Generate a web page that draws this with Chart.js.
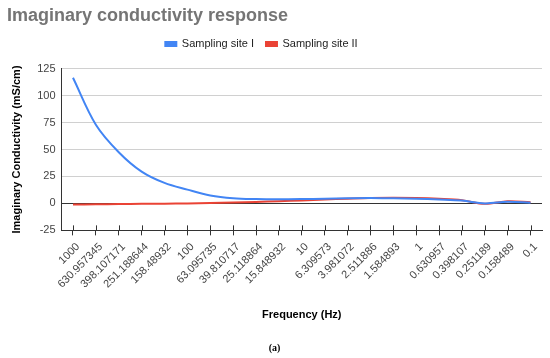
<!DOCTYPE html>
<html>
<head>
<meta charset="utf-8">
<script src="https://cdn.jsdelivr.net/npm/chart.js@4/dist/chart.umd.min.js"></script>
<style>
  html, body { margin: 0; padding: 0; background: #fff; }
  #wrap { width: 550px; height: 358px; position: relative; }
</style>
</head>
<body>
<div id="wrap"><canvas id="myChart" width="550" height="358"></canvas></div>
<script>
// frequencies (Hz), high to low
const frequencies = ['1000', '630.957345', '398.107171', '251.188644', '158.48932', '100',
    '63.095735', '39.810717', '25.118864', '15.848932', '10', '6.309573', '3.981072',
    '2.511886', '1.584893', '1', '0.630957', '0.398107', '0.251189', '0.158489', '0.1'];

// imaginary conductivity (mS/cm)
const siteOne = [116.5, 73, 47.5, 29.5, 19, 12.8, 7.4, 4.8, 4, 3.8, 4, 4.4, 4.8, 5, 4.7, 4.3, 3.6, 2.6, 0, 1.5, 0.6];
const siteTwo = [-1, -0.8, -0.6, -0.4, -0.2, 0, 0.4, 0.9, 1.4, 2, 2.8, 3.7, 4.4, 5, 5.2, 5, 4.3, 3, -0.4, 2, 1.1];

const yTicks = { min: -25, max: 125, step: 25 };

// draws the upper half of the x tick marks so they cross the axis line
const crossTicks = {
    id: 'crossTicks',
    afterDraw(chart) {
        const x = chart.scales.x;
        const ctx = chart.ctx;
        ctx.save();
        ctx.strokeStyle = '#333';
        ctx.lineWidth = 1;
        ctx.beginPath();
        x.ticks.forEach((t, i) => {
            const px = Math.round(x.getPixelForTick(i)) + 0.5;
            ctx.moveTo(px, x.top);
            ctx.lineTo(px, x.top - 5);
        });
        ctx.stroke();
        ctx.restore();
    }
};

// more room under the legend, and nudge it a bit left
const legendTweak = {
    id: 'legendTweak',
    beforeInit(chart) {
        const lg = chart.legend;
        const fit = lg.fit;
        lg.fit = function () {
            fit.call(this);
            this.height += 9;
        };
        const draw = lg.draw;
        lg.draw = function () {
            const c = this.ctx;
            c.save();
            c.translate(-13, 0);
            draw.call(this);
            c.restore();
        };
    }
};

const ctx = document.getElementById('myChart').getContext('2d');
new Chart(ctx, {
    type: 'line',
    data: {
        labels: frequencies,
        datasets: [{
            label: 'Sampling site I',
            data: siteOne,
            borderColor: '#4285F4',
            backgroundColor: '#4285F4',
            borderWidth: 2,
            pointRadius: 0,
            tension: 0.35
        }, {
            label: 'Sampling site II',
            data: siteTwo,
            borderColor: '#EA4335',
            backgroundColor: '#EA4335',
            borderWidth: 2,
            pointRadius: 0,
            tension: 0.35
        }]
    },
    options: {
        responsive: false,
        animation: false,
        layout: { padding: { left: 7, right: 8, top: 2, bottom: 2 } },
        plugins: {
            title: {
                display: true,
                text: 'Imaginary conductivity response',
                align: 'start',
                color: '#757575',
                font: { family: 'Liberation Sans, Arial, sans-serif', size: 18, weight: 'bold' },
                padding: { top: 3, bottom: 0 }
            },
            subtitle: {
                display: true,
                position: 'bottom',
                text: '(a)',
                color: '#000',
                font: { family: 'Liberation Serif, serif', size: 10, weight: 'bold' },
                padding: { top: 20, bottom: 2 }
            },
            legend: {
                position: 'top',
                labels: {
                    boxWidth: 11,
                    boxHeight: 4,
                    color: '#222',
                    font: { family: 'Liberation Sans, Arial, sans-serif', size: 11 },
                    padding: 12
                }
            },
            tooltip: { enabled: false }
        },
        scales: {
            x: {
                offset: true,
                grid: {
                    display: true,
                    offset: false,
                    drawOnChartArea: false,
                    drawTicks: true,
                    tickLength: 5,
                    color: '#333'
                },
                border: { display: true, color: '#333' },
                ticks: {
                    autoSkip: false,
                    maxRotation: 45,
                    minRotation: 45,
                    color: '#444',
                    padding: 5,
                    labelOffset: 5,
                    font: { family: 'Liberation Sans, Arial, sans-serif', size: 11 }
                },
                title: {
                    display: true,
                    text: 'Frequency (Hz)',
                    color: '#000',
                    font: { family: 'Liberation Sans, Arial, sans-serif', size: 11, weight: 'bold' },
                    padding: { top: 13, bottom: 0 }
                }
            },
            y: {
                min: yTicks.min,
                max: yTicks.max,
                ticks: {
                    stepSize: yTicks.step,
                    color: '#444',
                    padding: 6,
                    font: { family: 'Liberation Sans, Arial, sans-serif', size: 11 }
                },
                grid: {
                    drawTicks: false,
                    color: c => c.tick && c.tick.value === 0 ? '#333' : '#d0d0d0'
                },
                border: { display: true, color: '#333' },
                title: {
                    display: true,
                    text: 'Imaginary Conductivity (mS/cm)',
                    color: '#000',
                    font: { family: 'Liberation Sans, Arial, sans-serif', size: 11, weight: 'bold' },
                    padding: { top: 3, bottom: 8 }
                }
            }
        }
    },
    plugins: [crossTicks, legendTweak]
});
</script>
</body>
</html>
